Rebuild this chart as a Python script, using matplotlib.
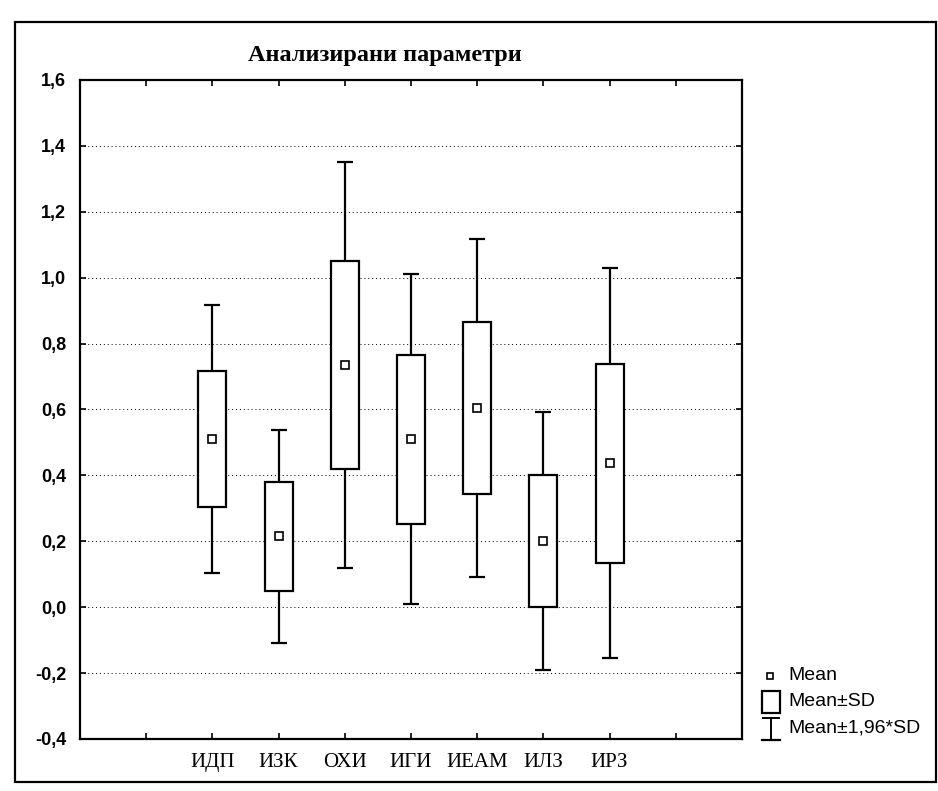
import matplotlib.pyplot as plt
from matplotlib.patches import Rectangle
from matplotlib.lines import Line2D
import numpy as np

# данни (отчетени от графиката)
categories = ["ИДП", "ИЗК", "ОХИ", "ИГИ", "ИЕАМ", "ИЛЗ", "ИРЗ"]
positions = [2, 3, 4, 5, 6, 7, 8]
means = [0.51, 0.215, 0.735, 0.51, 0.605, 0.20, 0.437]
sds = [0.207, 0.165, 0.315, 0.256, 0.262, 0.200, 0.302]
y_ticks = [-0.4, -0.2, 0.0, 0.2, 0.4, 0.6, 0.8, 1.0, 1.2, 1.4, 1.6]
title = "Анализирани параметри"

means = np.array(means)
sds = np.array(sds)

W, H = 938, 791
fig = plt.figure(figsize=(W / 100, H / 100), dpi=100)

# рамка около цялата графика
fig.add_artist(Rectangle((15 / W, 1 - 782 / H), (936 - 15) / W, (782 - 22) / H,
                         transform=fig.transFigure, fill=False,
                         edgecolor='black', linewidth=1.6))

left, right, top, bottom = 80, 742, 80, 739
ax = fig.add_axes([left / W, 1 - bottom / H, (right - left) / W, (bottom - top) / H])

# кутии: Mean±SD
ax.bar(positions, 2 * sds, bottom=means - sds, width=0.42,
       facecolor='white', edgecolor='black', linewidth=1.6, zorder=3)
# мустаци: Mean±1,96*SD
ax.errorbar(positions, means, yerr=1.96 * sds, fmt='none', ecolor='black',
            elinewidth=1.6, capsize=6, capthick=1.6, zorder=2)
# средни стойности
ax.plot(positions, means, 's', mfc='white', mec='black', ms=6, mew=1.2, zorder=4)

ax.set_xlim(0, 10)
ax.set_ylim(-0.4, 1.6)
ax.set_yticks(y_ticks)
ax.set_yticklabels([("%.1f" % v).replace('.', ',') for v in y_ticks],
                   fontdict={'family': 'Liberation Sans', 'size': 13, 'weight': 'bold'})
ax.set_xticks(range(0, 11))
ax.set_xticklabels([""] * 2 + categories + [""] * 2,
                   fontdict={'family': 'Liberation Serif', 'size': 15})
ax.tick_params(direction='in', length=4, width=1.2, top=True, right=True, pad=10)
ax.tick_params(axis='x', pad=10)
for s in ax.spines.values():
    s.set_linewidth(1.6)

# мрежа
for v in y_ticks[1:-1]:
    ax.axhline(v, color='black', linestyle=(0, (1, 3)), linewidth=0.7, zorder=1)

fig.text(385 / W, 1 - 56 / H, title, ha='center', va='center',
         family='Liberation Serif', fontsize=17.5, weight='bold')

# легенда
lf = {'family': 'Liberation Sans', 'size': 14}
fig.add_artist(Line2D([770 / W], [1 - 676 / H], marker='s', ms=5, mfc='white',
                      mec='black', mew=1.2, transform=fig.transFigure))
fig.text(788 / W, 1 - 676 / H, "Mean", va='center', **lf)
fig.add_artist(Rectangle((762 / W, 1 - 713 / H), 18 / W, 22 / H, fill=False,
                         edgecolor='black', linewidth=1.6, transform=fig.transFigure))
fig.text(788 / W, 1 - 702 / H, "Mean±SD", va='center', **lf)
fig.add_artist(Line2D([771 / W, 771 / W], [1 - 718 / H, 1 - 740 / H], color='black',
                      linewidth=1.4, transform=fig.transFigure))
fig.add_artist(Line2D([763 / W, 779 / W], [1 - 718 / H, 1 - 718 / H], color='black',
                      linewidth=1.4, transform=fig.transFigure))
fig.add_artist(Line2D([762 / W, 780 / W], [1 - 740 / H, 1 - 740 / H], color='black',
                      linewidth=1.6, transform=fig.transFigure))
fig.text(788 / W, 1 - 728 / H, "Mean±1,96*SD", va='center', **lf)

plt.savefig("out.png", dpi=100)
plt.close('all')
